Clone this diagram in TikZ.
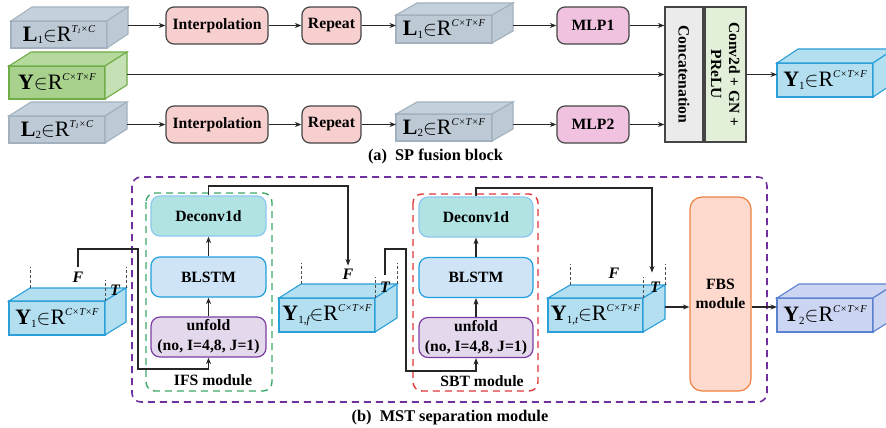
\documentclass[tikz,border=0pt]{standalone}
\usepackage{fontspec}
\setmainfont{Liberation Serif}
\usetikzlibrary{arrows.meta,calc}
\definecolor{grayF}{HTML}{BDCAD6}
\definecolor{grayT}{HTML}{C4D0DB}
\definecolor{grayE}{HTML}{A3B1BE}
\definecolor{grnF}{HTML}{A9D18E}
\definecolor{grnT}{HTML}{B5D99C}
\definecolor{grnS}{HTML}{C5E0B4}
\definecolor{grnE}{HTML}{70AD47}
\definecolor{bluF}{HTML}{B3DFF1}
\definecolor{bluE}{HTML}{2A9FD8}
\definecolor{lavF}{HTML}{CCD5F2}
\definecolor{lavE}{HTML}{5B82D0}
\definecolor{pinkF}{HTML}{F8CFCF}
\definecolor{mauveF}{HTML}{F0C2DF}
\definecolor{catF}{HTML}{EBEBEB}
\definecolor{convF}{HTML}{E2F0D9}
\definecolor{boxE}{HTML}{454545}
\definecolor{decF}{HTML}{B2E3E3}
\definecolor{decE}{HTML}{8CC8F0}
\definecolor{blsF}{HTML}{CFE4F7}
\definecolor{blsE}{HTML}{20A0DC}
\definecolor{unfF}{HTML}{E4D8EC}
\definecolor{purp}{HTML}{7B3FA3}
\definecolor{mstE}{HTML}{7030A0}
\definecolor{ifsE}{HTML}{3DAA6A}
\definecolor{sbtE}{HTML}{E03A3A}
\definecolor{fbsF}{HTML}{FDDACD}
\definecolor{fbsE}{HTML}{EE8244}
\newcommand\cuboid[8]{%
  \node[cube, #7front, minimum width=#3, minimum height=#4] (#1) at #2 {#8};
  \coordinate (#1-bl) at ($(#1.north west)+(#5,-#6)$);
  \coordinate (#1-br) at ($(#1.north east)+(#5,-#6)$);
  \coordinate (#1-back) at ($(#1.east)+(#5,-#6)$);
  \draw[cube, #7top] (#1.north west) -- (#1-bl) -- (#1-br) -- (#1.north east) -- cycle;
  \draw[cube, #7side] (#1.north east) -- (#1-br) -- ($(#1.south east)+(#5,-#6)$) -- (#1.south east) -- cycle;
}
\newcommand\tensor[3]{{\normalfont\fontsize{22}{22}\selectfont\textbf{#1}\raisebox{-2.5pt}{\fontsize{11}{11}\selectfont #2}$\in$R\raisebox{9pt}{\fontsize{10.5}{10.5}\selectfont\itshape #3}}}
\begin{document}
\begin{tikzpicture}[x=1pt,y=-1pt,
  font=\fontsize{15.7}{18}\selectfont\bfseries,
  cube/.style={line width=1.1pt, inner sep=0pt, outer sep=0pt},
  grayfront/.style={fill=grayF, draw=grayE},
  graytop/.style={fill=grayT, draw=grayE},
  grayside/.style={fill=grayF, draw=grayE},
  grnfront/.style={fill=grnF, draw=grnE},
  grntop/.style={fill=grnT, draw=grnE},
  grnside/.style={fill=grnS, draw=grnE},
  blufront/.style={fill=bluF, draw=bluE},
  blutop/.style={fill=bluF, draw=bluE},
  bluside/.style={fill=bluF, draw=bluE},
  lavfront/.style={fill=lavF, draw=lavE},
  lavtop/.style={fill=lavF, draw=lavE},
  lavside/.style={fill=lavF, draw=lavE},
  proc/.style={draw=boxE, line width=1.2pt, rounded corners=8pt, inner sep=0pt, minimum height=37},
  pbox/.style={line width=1.2pt, rounded corners=9pt, inner sep=0pt, minimum width=115, minimum height=40, align=center},
  vbar/.style={draw=boxE, line width=1.2pt, inner sep=0pt, minimum height=135},
  arr/.style={-{Stealth[length=6.5pt,width=5pt]}, line width=1.1pt, draw=black!85},
  guide/.style={dashed, line width=0.7pt, draw=black!70, dash pattern=on 3pt off 2pt},
  frame/.style={dashed, line width=1.6pt, rounded corners=9pt, dash pattern=on 7pt off 5pt},
  dimlbl/.style={font=\fontsize{16}{16}\selectfont\bfseries\itshape, inner sep=1pt},
  captxt/.style={font=\fontsize{16.3}{18}\selectfont\bfseries}
]
\clip (0,0) rectangle (886,428);
\fill[white] (0,0) rectangle (886,428);

% ---------------- (a) SP fusion block ----------------
\cuboid{L1a}{(59,34.5)}{96}{27}{21}{14}{gray}{\tensor{L}{1}{T\raisebox{-1pt}{\fontsize{7}{7}\selectfont 1}×C}}
\cuboid{Yg}{(57,82.5)}{96}{33}{22}{14}{grn}{\tensor{Y}{}{C×T×F}}
\cuboid{L2a}{(57,129.5)}{96}{27}{22}{14}{gray}{\tensor{L}{2}{T\raisebox{-1pt}{\fontsize{7}{7}\selectfont 1}×C}}
\cuboid{L1b}{(444,29)}{96}{28}{21}{12}{gray}{\tensor{L}{1}{C×T×F}}
\cuboid{L2b}{(444,127.5)}{96}{27}{21}{12}{gray}{\tensor{L}{2}{C×T×F}}
\cuboid{Y1a}{(825,80)}{96}{34}{21}{14}{blu}{\tensor{Y}{1}{C×T×F}}

\node[proc, fill=pinkF, minimum width=102] (I1) at (217,25.5) {Interpolation};
\node[proc, fill=pinkF, minimum width=59] (R1) at (331.5,25.5) {Repeat};
\node[proc, fill=mauveF, minimum width=72] (M1) at (593,25.5) {MLP1};
\node[proc, fill=pinkF, minimum width=102] (I2) at (217,124.5) {Interpolation};
\node[proc, fill=pinkF, minimum width=59] (R2) at (331.5,124.5) {Repeat};
\node[proc, fill=mauveF, minimum width=72] (M2) at (593,124.5) {MLP2};
\node[vbar, fill=catF, minimum width=38] (Cat) at (684,74.5) {};
\node[rotate=-90] (CatT) at (Cat.center) {Concatenation};
\node[vbar, fill=convF, minimum width=41] (Cv) at (725.5,74.5) {};
\node[rotate=-90, align=center, font=\fontsize{15.5}{18}\selectfont\bfseries] (CvT) at (Cv.center) {Conv2d + GN +\\PReLU};

\draw[arr] (L1a-back |- I1.west) -- (I1.west);
\draw[arr] (I1.east) -- (R1.west);
\draw[arr] (R1.east) -- (R1.east -| L1b.west);
\draw[arr] (L1b-back |- M1.west) -- (M1.west);
\draw[arr] (M1.east) -- (M1.east -| Cat.west);
\draw[arr] (Yg-back |- Cat.west) -- (Cat.west);
\draw[arr] (L2a-back |- I2.west) -- (I2.west);
\draw[arr] (I2.east) -- (R2.west);
\draw[arr] (R2.east) -- (R2.east -| L2b.west);
\draw[arr] (L2b-back |- M2.west) -- (M2.west);
\draw[arr] (M2.east) -- (M2.east -| Cat.west);
\draw[arr] (Cv.east) -- (Cv.east -| Y1a.west);

\node[captxt] (capA) at (435.5,156) {(a)\enspace SP fusion block};

% ---------------- (b) MST separation module ----------------
\draw[frame, draw=mstE] (132,177) rectangle (767,402);
\draw[frame, draw=ifsE, line width=1.4pt] (146,193) rectangle (272,391);
\draw[frame, draw=sbtE, line width=1.4pt] (413,194) rectangle (538,391);

\node[pbox, fill=decF, draw=decE] (D1) at (208.5,216) {Deconv1d};
\node[pbox, fill=blsF, draw=blsE] (B1) at (208.5,277) {BLSTM};
\node[pbox, fill=unfF, draw=purp, font=\fontsize{15.7}{20}\selectfont\bfseries] (U1) at (208.5,337) {unfold\\(no, I=4,8, J=1)};
\node (ifsT) at (213,380) {IFS module};

\node[pbox, fill=decF, draw=decE, minimum width=114] (D2) at (476,217) {Deconv1d};
\node[pbox, fill=blsF, draw=blsE, minimum width=114] (B2) at (476,277.5) {BLSTM};
\node[pbox, fill=unfF, draw=purp, minimum width=114, font=\fontsize{15.7}{20}\selectfont\bfseries] (U2) at (476,337.5) {unfold\\(no, I=4,8, J=1)};
\node (sbtT) at (482,381) {SBT module};

\node[line width=1.2pt, rounded corners=12pt, fill=fbsF, draw=fbsE, minimum width=61, minimum height=194, inner sep=0pt, align=center, font=\fontsize{15.7}{19}\selectfont\bfseries] (FBS) at (720.5,294) {FBS\\module};

\cuboid{Y1b}{(57,318)}{96}{34}{21}{13}{blu}{\tensor{Y}{1}{C×T×F}}
\cuboid{Y1f}{(327,315)}{96}{34}{22}{14}{blu}{\tensor{Y}{1,\itshape f}{C×T×F}}
\cuboid{Y1t}{(595.5,315)}{95}{34}{22}{13}{blu}{\tensor{Y}{1,\itshape t}{C×T×F}}
\cuboid{Y2}{(825,315)}{96}{34}{22}{14}{lav}{\tensor{Y}{2}{C×T×F}}

\foreach \c in {Y1b,Y1f,Y1t}{
  \draw[guide] (\c-bl) -- ++(0,-21);
  \draw[guide] (\c-br) -- ++(0,-21);
  \draw[guide] (\c.north east) -- ++(0,-21);
}
\node[dimlbl] (fA) at (78,277) {F};
\node[dimlbl] (tA) at (115,290) {T};
\node[dimlbl] (fB) at (348,274) {F};
\node[dimlbl] (tB) at (385,287) {T};
\node[dimlbl] (fC) at (614,273) {F};
\node[dimlbl] (tC) at (655,287) {T};

\coordinate (k1) at (138,249);
\coordinate (k2) at (138,369);
\coordinate (k3) at (0,186);
\coordinate (k4) at (406,249);
\coordinate (k5) at (406,371);
\coordinate (k6) at (0,188);
\coordinate (row) at (0,307);

\draw[arr] ([yshift=4pt]fA.north) |- (k1) -- (k2) -| (U1.south);
\draw[arr] (U1.north) -- (B1.south);
\draw[arr] (B1.north) -- (D1.south);
\draw[arr, shorten >=2pt] (D1.north) -- (D1.north |- k3) -| (fB.north);
\draw[arr] ([yshift=6pt]tB.north) |- (k4) -- (k5) -| (U2.south);
\draw[arr] (U2.north) -- (B2.south);
\draw[arr] (B2.north) -- (D2.south);
\draw[arr, shorten >=8pt] (D2.north) -- (D2.north |- k6) -| ([xshift=-3pt]tC.north);
\draw[arr] (Y1t-back |- row) -- (FBS.west |- row);
\draw[arr] (FBS.east |- row) -- (Y2.west |- row);

\node[captxt] (capB) at (450,418) {(b)\enspace MST separation module};
\end{tikzpicture}
\end{document}
